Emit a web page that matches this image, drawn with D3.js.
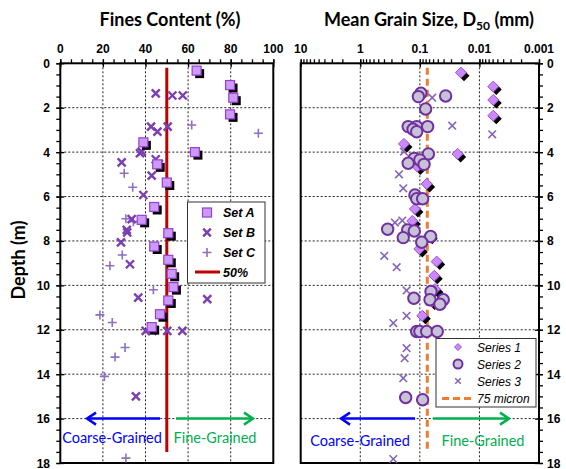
<!DOCTYPE html>
<html><head><meta charset="utf-8">
<script src="https://cdn.jsdelivr.net/npm/d3@7"></script>
<style>body{margin:0;background:#fff}svg{display:block}</style>
</head><body>
<svg id="c" width="566" height="469"></svg>
<script>
// ---------- DATA ----------
const setA = [[64,0.33],[79.7,0.98],[81.2,1.55],[79.7,2.3],[39,3.56],[63.2,4.0],[45.5,4.55],[50,5.37],[44.1,6.47],[38.2,7.05],[50.7,7.65],[44.1,8.25],[50.7,8.85],[52.3,9.48],[53.1,10.08],[50.7,10.68],[46.8,11.3],[42.9,11.88]];
const setB = [[44.8,1.35],[52.6,1.45],[57.5,1.45],[42.6,2.85],[50.4,2.85],[45.6,3.08],[38.2,3.98],[37.4,4.05],[28.8,4.46],[44.8,4.32],[46.3,4.53],[42.9,5.06],[39,5.93],[33.5,7.02],[31.2,7.5],[31.4,7.62],[28.5,8.06],[32.7,9.05],[36.6,10.55],[69,10.62],[40.1,12.05],[43.2,12.05],[50.2,12.05],[57.3,12.05],[35.5,15.0]];
const setC = [[61.7,2.78],[93,3.15],[30,4.95],[34,5.58],[30.8,7.0],[34.3,7.13],[29.1,8.63],[23.3,9.12],[43.7,10.2],[18.6,11.33],[24.4,11.67],[30.4,12.8],[25.7,13.23],[20.7,14.1],[30.8,17.78]];
const series1 = [[0.0204,0.42],[0.00586,1.05],[0.00586,1.65],[0.00586,2.36],[0.185,3.63],[0.0232,4.08],[0.110,4.65],[0.0769,5.43],[0.121,6.56],[0.134,7.1],[0.0695,7.77],[0.102,8.36],[0.0522,8.93],[0.0573,9.57],[0.0558,10.17],[0.0634,10.73],[0.091,11.37]];
const series2 = [[0.0959,1.35],[0.106,1.5],[0.0369,1.47],[0.08,2.06],[0.157,2.85],[0.113,2.85],[0.13,2.97],[0.113,3.08],[0.074,2.85],[0.072,4.08],[0.124,4.28],[0.1,4.35],[0.157,4.5],[0.085,4.55],[0.121,5.93],[0.113,6.1],[0.0898,6.1],[0.347,7.47],[0.16,7.5],[0.124,7.55],[0.19,7.85],[0.066,7.8],[0.093,8.06],[0.126,10.58],[0.065,10.28],[0.0676,10.65],[0.0405,10.65],[0.046,10.85],[0.113,12.08],[0.1,12.08],[0.0769,12.08],[0.051,12.08],[0.173,15.05],[0.0898,15.15]];
const series3 = [[0.062,1.55],[0.0286,2.81],[0.0061,3.2],[0.185,3.98],[0.224,5.0],[0.19,5.63],[0.262,7.17],[0.197,7.08],[0.395,8.67],[0.245,9.18],[0.167,10.23],[0.167,11.37],[0.279,11.7],[0.167,12.83],[0.18,13.28],[0.19,14.18],[0.279,17.82]];
const finesTicks = [0,20,40,60,80,100];
const grainTicks = [10,1,0.1,0.01,0.001];
const grainTickLabels = ["10","1","0.1","0.01","0.001"];
const depthTicks = [0,2,4,6,8,10,12,14,16,18];
const limitFines = 50;      // %
const limitGrain = 0.075;   // mm
const limitDepth = [0.2, 17.5];
const legendA = ["Set A","Set B","Set C","50%"];
const legendB = ["Series 1","Series 2","Series 3","75 micron"];

// ---------- SETUP ----------
const svg = d3.select("#c");
const y = d3.scaleLinear().domain([0,18]).range([63.3,463]);
const xL = d3.scaleLinear().domain([0,100]).range([60.3,273.3]);
const xR = d3.scaleLog().domain([10,0.001]).range([300.7,539]);
const numFont = "'Liberation Sans', Arial, sans-serif";
const titleFont = "Lato, 'Open Sans', sans-serif";

function grid(g, x, xt, x0, x1){
  g.selectAll(".gv").data(xt.slice(1,-1)).join("line")
   .attr("x1",d=>x(d)).attr("x2",d=>x(d)).attr("y1",y(0)).attr("y2",y(18))
   .attr("stroke","#222").attr("stroke-width",1).attr("stroke-dasharray","2,2");
  g.selectAll(".gh").data(depthTicks.slice(1,-1)).join("line")
   .attr("x1",x0).attr("x2",x1).attr("y1",d=>y(d)).attr("y2",d=>y(d))
   .attr("stroke","#222").attr("stroke-width",1).attr("stroke-dasharray","2,2");
}

// ---------- LEFT PANEL ----------
const L = svg.append("g");
grid(L.append("g"), xL, finesTicks, xL(0), xL(100));
const topL = L.append("g").attr("transform",`translate(0,${y(0)})`);
topL.call(d3.axisTop(xL).tickValues(d3.range(0,101,5)).tickSize(4).tickFormat(""));
topL.call(g=>g.selectAll(".domain").remove());
topL.selectAll("line").attr("stroke","#000").attr("stroke-width",1.3);
const topLM = L.append("g").attr("transform",`translate(0,${y(0)+4})`);
topLM.call(d3.axisTop(xL).tickValues(finesTicks).tickSize(8).tickFormat(""));
topLM.call(g=>g.selectAll(".domain").remove());
topLM.selectAll("line").attr("stroke","#000").attr("stroke-width",1.3);
L.selectAll(".tlL").data(finesTicks).join("text").attr("x",d=>xL(d)).attr("y",53)
 .attr("text-anchor","middle").attr("font-family",numFont).attr("font-weight","bold").attr("font-size",12).text(d=>d);
const leftL = L.append("g").attr("transform",`translate(${xL(0)},0)`);
leftL.call(d3.axisLeft(y).tickValues(d3.range(0,18.01,0.5)).tickSize(4).tickFormat(""));
leftL.call(g=>g.selectAll(".domain").remove());
leftL.selectAll("line").attr("stroke","#000").attr("stroke-width",1.3);
const leftLM = L.append("g").attr("transform",`translate(${xL(0)+4},0)`);
leftLM.call(d3.axisLeft(y).tickValues(depthTicks).tickSize(8).tickFormat(""));
leftLM.call(g=>g.selectAll(".domain").remove());
leftLM.selectAll("line").attr("stroke","#000").attr("stroke-width",1.3);
L.selectAll(".ylL").data(depthTicks).join("text").attr("x",50).attr("y",d=>y(d)+4.5)
 .attr("text-anchor","end").attr("font-family",numFont).attr("font-weight","bold").attr("font-size",12).text(d=>d);
L.append("rect").attr("x",xL(0)).attr("y",y(0)).attr("width",xL(100)-xL(0)).attr("height",y(18)-y(0))
 .attr("fill","none").attr("stroke","#000").attr("stroke-width",2);

L.append("line").attr("x1",xL(limitFines)).attr("x2",xL(limitFines)).attr("y1",y(limitDepth[0])).attr("y2",y(limitDepth[1]))
 .attr("stroke","#c00000").attr("stroke-width",3);

const plus = (g,cx,cy,s,col,w)=>{g.append("path").attr("d",`M${cx-s},${cy}H${cx+s}M${cx},${cy-s}V${cy+s}`).attr("stroke",col).attr("stroke-width",w).attr("fill","none");};
const cross = (g,cx,cy,s,col,w)=>{g.append("path").attr("d",`M${cx-s},${cy-s}L${cx+s},${cy+s}M${cx-s},${cy+s}L${cx+s},${cy-s}`).attr("stroke",col).attr("stroke-width",w).attr("fill","none");};
const gC = L.append("g");
setC.forEach(d=>plus(gC,xL(d[0]),y(d[1]),4.5,"#8e6fc4",1.6));
const gB = L.append("g");
setB.forEach(d=>cross(gB,xL(d[0]),y(d[1]),4,"#7a3fb0",2.4));
const gA = L.append("g");
gA.selectAll(".sh").data(setA).join("rect").attr("x",d=>xL(d[0])-4.5+3).attr("y",d=>y(d[1])-4.5+3)
 .attr("width",9).attr("height",9).attr("fill","#000");
gA.selectAll(".sq").data(setA).join("rect").attr("x",d=>xL(d[0])-4.5).attr("y",d=>y(d[1])-4.5)
 .attr("width",9).attr("height",9).attr("fill","#cc99ff").attr("stroke","#9b3fc9").attr("stroke-width",1.2);

const lg = L.append("g");
lg.append("rect").attr("x",187.5).attr("y",202).attr("width",77.5).attr("height",81).attr("fill","#fff").attr("stroke","#333").attr("stroke-width",1);
const lgY = [212.5,232.5,252.5,272];
lg.append("rect").attr("x",207-4.5).attr("y",lgY[0]-4.5).attr("width",9).attr("height",9).attr("fill","#cc99ff").attr("stroke","#9b3fc9").attr("stroke-width",1.2);
cross(lg,207,lgY[1],3.8,"#7a3fb0",2.4);
plus(lg,207,lgY[2],4.5,"#8e6fc4",1.6);
lg.append("line").attr("x1",195).attr("x2",220).attr("y1",lgY[3]).attr("y2",lgY[3]).attr("stroke","#c00000").attr("stroke-width",3);
lg.selectAll(".lt").data(legendA).join("text").attr("x",223).attr("y",(d,i)=>lgY[i]+4.5)
 .attr("font-family",numFont).attr("font-weight","bold").attr("font-style","italic").attr("font-size",12.5).text(d=>d);

// ---------- RIGHT PANEL ----------
const R = svg.append("g");
grid(R.append("g"), xR, grainTicks, xR(10), xR(0.001));
const minorR = [];
for (let e=-3;e<1;e++) for (let m=1;m<10;m++) minorR.push(m*Math.pow(10,e));
minorR.push(10);
const topR = R.append("g").attr("transform",`translate(0,${y(0)})`);
topR.call(d3.axisTop(xR).tickValues(minorR).tickSize(4).tickFormat(""));
topR.call(g=>g.selectAll(".domain").remove());
topR.selectAll("line").attr("stroke","#000").attr("stroke-width",1.3);
const topRM = R.append("g").attr("transform",`translate(0,${y(0)+4})`);
topRM.call(d3.axisTop(xR).tickValues(grainTicks).tickSize(8).tickFormat(""));
topRM.call(g=>g.selectAll(".domain").remove());
topRM.selectAll("line").attr("stroke","#000").attr("stroke-width",1.3);
R.selectAll(".tlR").data(grainTicks).join("text").attr("x",d=>xR(d)).attr("y",53)
 .attr("text-anchor","middle").attr("font-family",numFont).attr("font-weight","bold").attr("font-size",12).text((d,i)=>grainTickLabels[i]);
const rightR = R.append("g").attr("transform",`translate(${xR(0.001)},0)`);
rightR.call(d3.axisRight(y).tickValues(d3.range(0,18.01,0.5)).tickSize(4).tickFormat(""));
rightR.call(g=>g.selectAll(".domain").remove());
rightR.selectAll("line").attr("stroke","#000").attr("stroke-width",1.3);
const rightRM = R.append("g").attr("transform",`translate(${xR(0.001)-4},0)`);
rightRM.call(d3.axisRight(y).tickValues(depthTicks).tickSize(8).tickFormat(""));
rightRM.call(g=>g.selectAll(".domain").remove());
rightRM.selectAll("line").attr("stroke","#000").attr("stroke-width",1.3);
R.selectAll(".ylR").data(depthTicks).join("text").attr("x",547).attr("y",d=>y(d)+4.5)
 .attr("text-anchor","start").attr("font-family",numFont).attr("font-weight","bold").attr("font-size",12).text(d=>d);
R.append("rect").attr("x",xR(10)).attr("y",y(0)).attr("width",xR(0.001)-xR(10)).attr("height",y(18)-y(0))
 .attr("fill","none").attr("stroke","#000").attr("stroke-width",2);

R.append("line").attr("x1",xR(limitGrain)).attr("x2",xR(limitGrain)).attr("y1",y(limitDepth[0])).attr("y2",y(limitDepth[1]))
 .attr("stroke","#ed7d31").attr("stroke-width",3).attr("stroke-dasharray","7,4");

const g3 = R.append("g");
series3.forEach(d=>cross(g3,xR(d[0]),y(d[1]),3.8,"#8466b8",1.6));
const g1 = R.append("g");
const dia = s=>`M0,${-s}L${s},0L0,${s}L${-s},0Z`;
g1.selectAll(".ds").data(series1).join("path").attr("d",dia(5.5))
 .attr("transform",d=>`translate(${xR(d[0])+3},${y(d[1])+3})`).attr("fill","#000");
g1.selectAll(".dm").data(series1).join("path").attr("d",dia(5.5))
 .attr("transform",d=>`translate(${xR(d[0])},${y(d[1])})`).attr("fill","#cc88ff").attr("stroke","#a050d0").attr("stroke-width",1);
const g2 = R.append("g");
g2.selectAll("circle").data(series2).join("circle").attr("cx",d=>xR(d[0])).attr("cy",d=>y(d[1])).attr("r",5.7)
 .attr("fill","#c8c2d6").attr("stroke","#7030a0").attr("stroke-width",2);

const rg = R.append("g");
rg.append("rect").attr("x",436).attr("y",338.5).attr("width",100).attr("height",68.5).attr("fill","#fff").attr("stroke","#333").attr("stroke-width",1);
const rgY = [347,364,381,398.5];
rg.append("path").attr("d",dia(3.5)).attr("transform",`translate(458,${rgY[0]})`).attr("fill","#cc88ff").attr("stroke","#a050d0").attr("stroke-width",1);
rg.append("circle").attr("cx",458).attr("cy",rgY[1]).attr("r",4.5).attr("fill","#c8c2d6").attr("stroke","#7030a0").attr("stroke-width",2);
cross(rg,458,rgY[2],2.8,"#8466b8",1.5);
rg.append("line").attr("x1",442).attr("x2",472).attr("y1",rgY[3]).attr("y2",rgY[3]).attr("stroke","#ed7d31").attr("stroke-width",3).attr("stroke-dasharray","7,4");
rg.selectAll(".rt").data(legendB).join("text").attr("x",477).attr("y",(d,i)=>rgY[i]+4.5)
 .attr("font-family",numFont).attr("font-style","italic").attr("font-size",12).text(d=>d);

// ---------- ARROWS & LABELS ----------
function arrow(x1,x2,yy,col){
  svg.append("line").attr("x1",x1).attr("x2",x2).attr("y1",yy).attr("y2",yy).attr("stroke",col).attr("stroke-width",2.5);
  const dir = x2<x1?1:-1;
  svg.append("path").attr("d",`M${x2+dir*9},${yy-6}L${x2},${yy}L${x2+dir*9},${yy+6}`).attr("stroke",col).attr("stroke-width",2.5).attr("fill","none").attr("stroke-linejoin","miter");
}
arrow(160,87,y(16),"#0000ff");
arrow(176,253,y(16),"#00b050");
arrow(415,341,y(16),"#0000ff");
arrow(433,509,y(16),"#00b050");
const lab = (x,yy,t,col)=>svg.append("text").attr("x",x).attr("y",yy).attr("text-anchor","middle")
  .attr("font-family",titleFont).attr("font-size",14.5).attr("fill",col).text(t);
lab(112,443,"Coarse-Grained","#0000ff");
lab(215,443,"Fine-Grained","#00b050");
lab(360,446,"Coarse-Grained","#0000ff");
lab(483,446,"Fine-Grained","#00b050");

svg.append("text").attr("x",170).attr("y",26).attr("text-anchor","middle").attr("font-family",titleFont)
  .attr("font-weight","bold").attr("font-size",18).text("Fines Content (%)");
const t2 = svg.append("text").attr("x",429).attr("y",26).attr("text-anchor","middle").attr("font-family",titleFont)
  .attr("font-weight","bold").attr("font-size",18);
t2.append("tspan").text("Mean Grain Size, D");
t2.append("tspan").attr("font-size",12).attr("dy",4).text("50");
t2.append("tspan").attr("dy",-4).text(" (mm)");
svg.append("text").attr("transform","translate(25,260) rotate(-90)").attr("text-anchor","middle").attr("font-family",titleFont)
  .attr("font-weight","bold").attr("font-size",18).text("Depth (m)");
</script>
</body></html>
